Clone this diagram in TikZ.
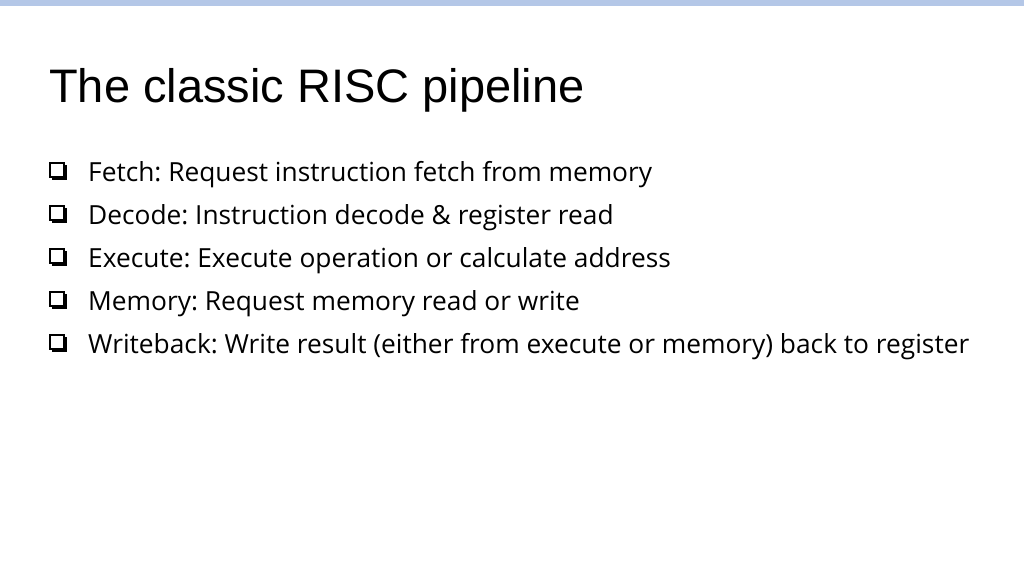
\documentclass[tikz,border=0pt]{standalone}
\usepackage{fontspec}
\setmainfont[Ligatures=NoCommon]{Open Sans}
\newfontfamily\titlefont{Liberation Sans}
\frenchspacing
\begin{document}
\begin{tikzpicture}[x=1pt,y=-1pt,
  item/.style={anchor=base west,inner sep=0pt,font=\fontsize{26.3}{30}\selectfont},
  box/.style={draw=black,line width=1.2pt}]
\useasboundingbox (0,0) rectangle (1024,576);
\fill[white] (0,0) rectangle (1024,576);
\fill[fill={rgb,255:red,180;green,199;blue,231}] (0,0) rectangle (1024,6);
\node[anchor=base west,inner sep=0pt,font=\titlefont\fontsize{47}{54}\selectfont] (title) at (49,102) {The classic RISC pipeline};
\foreach \y/\t [count=\i] in {181/{Fetch: Request instruction fetch from memory},
  224/{Decode: Instruction decode \& register read},
  267/{Execute: Execute operation or calculate address},
  310/{Memory: Request memory read or write},
  353/{Writeback: Write result (either from execute or memory) back to register}}{
  \node[item] (t\i) at (88,\y) {\t};
  \draw[box] (50,\y-18) rectangle (64,\y-4);
  \draw[line width=2.4pt] (52,\y-2.5) -- (66,\y-2.5) -- (66,\y-16);
}
\end{tikzpicture}
\end{document}
